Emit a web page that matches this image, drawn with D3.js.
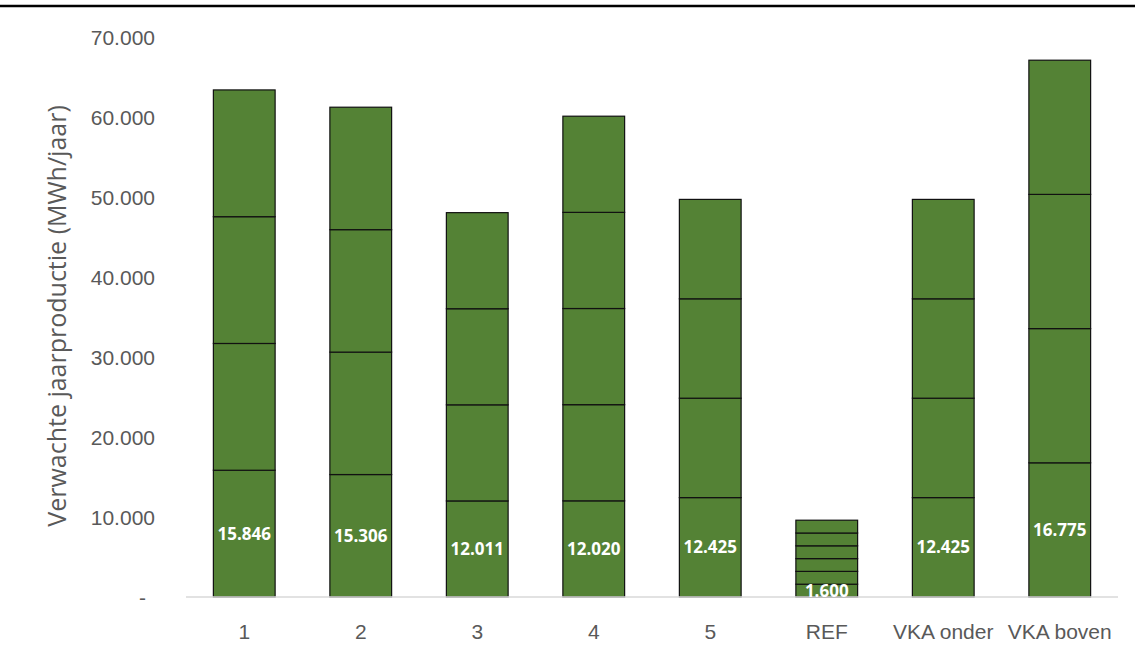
<!DOCTYPE html>
<html>
<head>
<meta charset="utf-8">
<script src="https://cdn.jsdelivr.net/npm/d3@7"></script>
<style>
  html, body { margin: 0; padding: 0; background: #fff; }
  svg { display: block; font-family: "Open Sans", "DejaVu Sans", sans-serif; }
</style>
</head>
<body>
<svg id="chart"></svg>
<script>
// categorieën en waarden (elk segment is even groot, aantal segmenten per balk)
const categories = ["1", "2", "3", "4", "5", "REF", "VKA onder", "VKA boven"];
const segmentValues = [15846, 15306, 12011, 12020, 12425, 1600, 12425, 16775];
const segmentCounts = [4, 4, 4, 5, 4, 6, 4, 4];
const yTicks = [0, 10000, 20000, 30000, 40000, 50000, 60000, 70000];

const width = 1135, height = 660;
const margin = { top: 37, right: 17, bottom: 63, left: 186 };

const svg = d3.select("#chart")
    .attr("width", width)
    .attr("height", height);

// dikke lijn bovenaan (rest van de pagina)
svg.append("line")
    .attr("x1", 0).attr("x2", width)
    .attr("y1", 6).attr("y2", 6)
    .attr("stroke", "#000")
    .attr("stroke-width", 2.5);

const x = d3.scaleBand()
    .domain(categories)
    .range([margin.left, width - margin.right])
    .paddingInner(0.47)
    .paddingOuter(0.235);

const y = d3.scaleLinear()
    .domain([0, 70000])
    .range([height - margin.bottom, margin.top]);

// stapels opbouwen
const segments = [];
categories.forEach((c, i) => {
    for (let k = 0; k < segmentCounts[i]; k++) {
        segments.push({ cat: c, y0: k * segmentValues[i], y1: (k + 1) * segmentValues[i] });
    }
});

const fmt = v => v === 0 ? "-" : d3.format(",")(v).replace(/,/g, ".");

// y-as
const yAxis = svg.append("g")
    .attr("transform", `translate(${margin.left - 31},0)`)
    .call(d3.axisLeft(y).tickValues(yTicks).tickSize(0).tickPadding(0).tickFormat(fmt));
yAxis.select(".domain").remove();
yAxis.selectAll("text")
    .attr("fill", "#595959")
    .style("font-size", "21px")
    .attr("dy", "0.35em");
yAxis.selectAll(".tick")
    .filter(d => d === 0)
    .select("text")
    .attr("x", -9);

// balken
svg.append("g")
    .selectAll("rect")
    .data(segments)
    .join("rect")
    .attr("x", d => x(d.cat))
    .attr("width", x.bandwidth())
    .attr("y", d => y(d.y1))
    .attr("height", d => y(d.y0) - y(d.y1))
    .attr("fill", "#548235")
    .attr("stroke", "#111")
    .attr("stroke-width", 1.2);

// x-as lijn
svg.append("line")
    .attr("x1", margin.left).attr("x2", width - margin.right)
    .attr("y1", y(0)).attr("y2", y(0))
    .attr("stroke", "#d9d9d9")
    .attr("stroke-width", 1.5);

// x-labels
const xAxis = svg.append("g")
    .attr("transform", `translate(0,${y(0)})`)
    .call(d3.axisBottom(x).tickSize(0).tickPadding(0));
xAxis.select(".domain").remove();
xAxis.selectAll("text")
    .attr("fill", "#595959")
    .attr("y", 35)
    .attr("dy", "0.35em")
    .style("font-size", "21px");

// datalabels in het onderste segment
svg.append("g")
    .selectAll("text")
    .data(categories)
    .join("text")
    .attr("x", d => x(d) + x.bandwidth() / 2)
    .attr("y", (d, i) => (y(0) + y(segmentValues[i])) / 2)
    .attr("dy", "0.35em")
    .attr("text-anchor", "middle")
    .attr("fill", "#fff")
    .style("font-size", "17px")
    .style("font-weight", "bold")
    .text((d, i) => fmt(segmentValues[i]));

// y-as titel
svg.append("text")
    .attr("transform", `translate(57,316) rotate(-90)`)
    .attr("text-anchor", "middle")
    .attr("dy", "0.35em")
    .attr("fill", "#595959")
    .style("font-size", "25px")
    .text("Verwachte jaarproductie (MWh/jaar)");
</script>
</body>
</html>
